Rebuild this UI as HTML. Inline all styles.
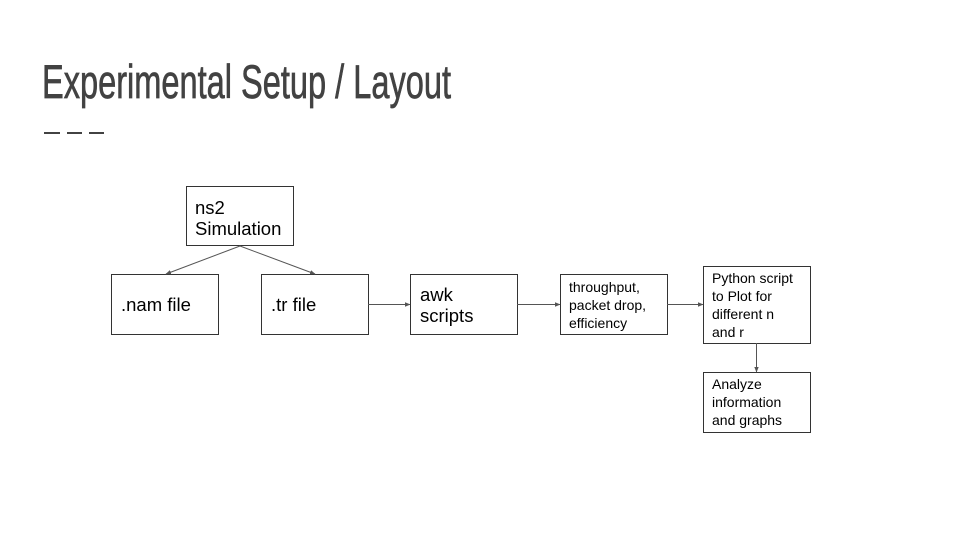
<!DOCTYPE html>
<html><head><meta charset="utf-8"><style>
html,body{margin:0;padding:0;background:#fff;}
svg{display:block;}
</style></head><body>
<svg width="960" height="540" viewBox="0 0 960 540" xmlns="http://www.w3.org/2000/svg">
<defs><marker id="a" markerWidth="6" markerHeight="6" refX="5" refY="3" orient="auto" markerUnits="userSpaceOnUse"><path d="M0,0.8 L5.5,3 L0,5.2 Z" fill="#555"/></marker></defs>
<text x="42" y="98" font-family="'Liberation Sans Narrow','Liberation Sans',sans-serif" font-size="47" fill="#424242" stroke="#424242" stroke-width="0.7" textLength="409" lengthAdjust="spacingAndGlyphs">Experimental Setup / Layout</text>
<g stroke="#424242" stroke-width="2"><line x1="44" y1="133" x2="60" y2="133"/><line x1="67" y1="133" x2="82" y2="133"/><line x1="89" y1="133" x2="104" y2="133"/></g>
<g fill="none" stroke="#333" stroke-width="1">
<rect x="186.5" y="186.5" width="107" height="59"/>
<rect x="111.5" y="274.5" width="107" height="60"/>
<rect x="261.5" y="274.5" width="107" height="60"/>
<rect x="410.5" y="274.5" width="107" height="60"/>
<rect x="560.5" y="274.5" width="107" height="60"/>
<rect x="703.5" y="266.5" width="107" height="77"/>
<rect x="703.5" y="372.5" width="107" height="60"/>
</g>
<g stroke="#555" stroke-width="1" marker-end="url(#a)">
<line x1="240" y1="246" x2="166" y2="274"/>
<line x1="240" y1="246" x2="315" y2="274"/>
<line x1="368" y1="304.5" x2="410" y2="304.5"/>
<line x1="517" y1="304.5" x2="560" y2="304.5"/>
<line x1="667" y1="304.5" x2="703" y2="304.5"/>
<line x1="756.5" y1="343" x2="756.5" y2="372"/>
</g>
<g font-family="'Liberation Sans',sans-serif" fill="#000">
<text font-size="18.5"><tspan x="195" y="214">ns2</tspan><tspan x="195" y="235">Simulation</tspan></text>
<text x="121" y="311" font-size="18.5">.nam file</text>
<text x="271" y="311" font-size="18.5">.tr file</text>
<text font-size="18.5"><tspan x="420" y="301">awk</tspan><tspan x="420" y="322">scripts</tspan></text>
<text font-size="14"><tspan x="569" y="292">throughput,</tspan><tspan x="569" y="310">packet drop,</tspan><tspan x="569" y="328">efficiency</tspan></text>
<text font-size="14"><tspan x="712" y="283">Python script</tspan><tspan x="712" y="301">to Plot for</tspan><tspan x="712" y="319">different n</tspan><tspan x="712" y="337">and r</tspan></text>
<text font-size="14"><tspan x="712" y="389">Analyze</tspan><tspan x="712" y="407">information</tspan><tspan x="712" y="425">and graphs</tspan></text>
</g>
</svg>
</body></html>
